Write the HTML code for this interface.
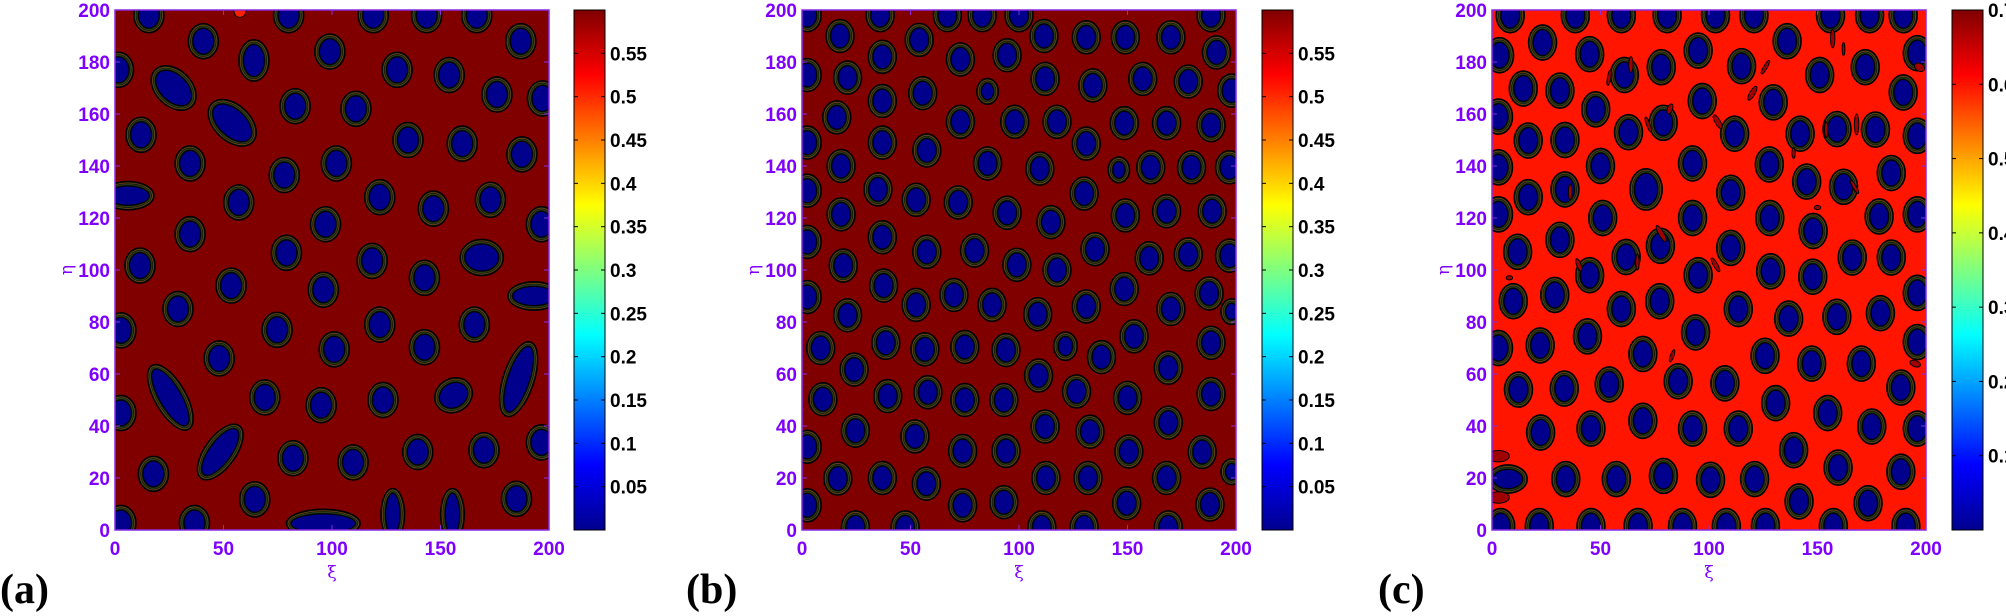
<!DOCTYPE html>
<html><head><meta charset="utf-8"><style>
html,body{margin:0;padding:0;background:#fff;width:2006px;height:616px;overflow:hidden}
svg{display:block}
.t{font-family:"Liberation Sans Narrow","Liberation Sans",sans-serif;font-weight:bold;font-size:19px;fill:#7f00ff}
.c{font-family:"Liberation Sans Narrow","Liberation Sans",sans-serif;font-weight:bold;font-size:19px;fill:#000}
.p{font-family:"Liberation Serif",serif;font-weight:bold;font-size:42px;fill:#000}
.g{font-family:"DejaVu Serif","Liberation Serif",serif;font-size:17px;fill:#7f00ff}
</style></head><body>
<svg id="s" width="2006" height="616" xmlns="http://www.w3.org/2000/svg">
<defs>
<linearGradient id="jet" x1="0" y1="1" x2="0" y2="0">
<stop offset="0" stop-color="#00008f"/><stop offset="0.125" stop-color="#0000ff"/><stop offset="0.375" stop-color="#00ffff"/><stop offset="0.625" stop-color="#ffff00"/><stop offset="0.875" stop-color="#ff0000"/><stop offset="1" stop-color="#800000"/>
</linearGradient>
<clipPath id="ca"><rect x="115" y="10" width="434" height="520"/></clipPath>
<clipPath id="cb"><rect x="802" y="10" width="434" height="520"/></clipPath>
<clipPath id="cc"><rect x="1492" y="10" width="434" height="520"/></clipPath>
</defs>
</svg>
<script>
var S=document.getElementById('s'),NS='http://www.w3.org/2000/svg';
function el(n,a,t,p){var e=document.createElementNS(NS,n);for(var k in a)e.setAttribute(k,a[k]);if(t!=null)e.textContent=t;(p||S).appendChild(e);return e;}
function panel(X0,bg,clip,spots,def,cbX,vmax,cticks,letter,letX,extra){
  el('rect',{x:X0,y:10,width:434,height:520,fill:bg});
  var g=el('g',{'clip-path':'url(#'+clip+')'});
  function px(x){return X0+x*434/200}function py(y){return 10+(200-y)*520/200}
  spots.forEach(function(s){
    var cx=px(s[0]),cy=py(s[1]),rx=(s[2]||def[0])*2.17,ry=(s[3]||def[1])*2.6,a=s[4]||0;
    var tr='rotate('+a+' '+cx+' '+cy+')';
    el('ellipse',{cx:cx,cy:cy,rx:rx,ry:ry,fill:'#141a0c',stroke:'#000','stroke-width':1.3,transform:tr},null,g);
    el('ellipse',{cx:cx,cy:cy,rx:rx-1.6,ry:ry-1.6,fill:'none',stroke:'#7a4a10','stroke-width':0.7,transform:tr},null,g);
    el('ellipse',{cx:cx,cy:cy,rx:rx-3.2,ry:ry-3.2,fill:'none',stroke:'#2e4a20','stroke-width':0.7,transform:tr},null,g);
    el('ellipse',{cx:cx,cy:cy,rx:Math.max(rx-4.8,1),ry:Math.max(ry-4.8,1),fill:'#00008c',stroke:'#000','stroke-width':1,transform:tr},null,g);
  });
  if(extra)extra(g,px,py);
  el('rect',{x:X0,y:10,width:434,height:520,fill:'none',stroke:'#8a2be2','stroke-width':1.5});
  for(var i=0;i<=4;i++){var x=X0+i*434/4;
    el('line',{x1:x,y1:530,x2:x,y2:525,stroke:'#8a2be2'});el('line',{x1:x,y1:10,x2:x,y2:15,stroke:'#8a2be2'});
    el('text',{x:x,y:555,'text-anchor':'middle','class':'t'},String(i*50));}
  for(var j=0;j<=10;j++){var y=530-j*52;
    el('line',{x1:X0,y1:y,x2:X0+5,y2:y,stroke:'#8a2be2'});el('line',{x1:X0+434,y1:y,x2:X0+429,y2:y,stroke:'#8a2be2'});
    el('text',{x:X0-5,y:y+7,'text-anchor':'end','class':'t'},String(j*20));}
  el('text',{x:X0+217,y:578,'text-anchor':'middle','class':'g'},'ξ');
  el('text',{x:0,y:0,'text-anchor':'middle','class':'g',transform:'translate('+(X0-43)+' 270) rotate(-90)'},'η');
  el('rect',{x:cbX,y:10,width:31,height:520,fill:'url(#jet)',stroke:'#000','stroke-width':1});
  cticks.forEach(function(v){var y=530-v/vmax*520;
    el('line',{x1:cbX,y1:y,x2:cbX+4,y2:y,stroke:'#000'});el('line',{x1:cbX+31,y1:y,x2:cbX+27,y2:y,stroke:'#000'});
    el('text',{x:cbX+36,y:y+7,'class':'c'},String(v));});
  el('text',{x:letX,y:603,'class':'p'},'('+letter+')');
}
var A=[[15.6,198],[80,198],[119,198],[143.6,198],[166.7,198],[40.7,188],[64,180.6,7,8],[99,184],[187,188],[1.6,177],[27,170,12,7,44],[130,177],[154,175],[176,167.5],[197,166],[83,163],[111,162],[54,156.6,13,7,43],[12,152],[135,150],[160,148.6],[187.5,144.5],[34.6,141],[102,141],[78,136.5],[6,128.6,12,5.5],[57,126],[122,128],[146.7,123.6],[173,127],[196.5,117.6],[97,117.6],[34.6,113.8],[79,106.6],[11.5,101.7],[118.5,103.5],[169,104.8,10,7],[53.5,94],[96,92.4],[142.6,97],[193,90,12,5.5],[29,85],[2.7,76.8],[74.7,77],[122,79],[165.6,79],[101,69.5],[48,66],[142.6,70.3],[25.5,51,17,6,60],[186,58,18,6,108],[69,51],[95,48],[123.5,50],[156,51.8,9,6.5,-30],[2.7,45],[48.5,30,15,6,126],[196.5,33.7],[82,27.6],[109.7,26],[139.5,30],[170,30.7],[17.7,21.6],[64.4,11.8],[185,12],[128,6,5.5,10],[155.5,6,5.5,10],[2.7,2.7],[36.6,2.7],[96,2.5,17,5.5]];
var B=[[2.4,198],[36,198],[67,198],[83,198],[100,198],[188.5,198],[17.5,190],[54,188.5],[111.5,190],[131,189.5],[149,189.5],[170,189.5],[37,182],[73,181],[94.5,182.6],[191,183.7],[2.4,175],[21,174],[112,173.5],[134,171],[157,173.5],[178,172.5],[198,169],[37,165],[55.6,168],[85.5,168.7,5,5],[16,158.7],[73,157],[98,157],[117.5,157],[148.5,156.5],[168,156.5],[188.5,155.7],[2.4,149],[37,149],[57.5,146],[131,148.6],[18,140],[85.5,141],[109.6,139],[146,138.5,5,5],[160.7,139.5],[179.5,139.5],[197,139.5],[2.4,130.5],[35,131],[52.6,127],[72,126],[130,129.4],[18,121.4],[94.5,122],[114.7,118.4],[149,121],[168,122.6],[189,122.6],[2.4,110.8],[37,112.6],[57.5,107],[79.5,107.5],[135,108],[160,104.5],[178,106],[197,105.5],[19,101.7],[99,102],[117.5,100],[2.4,89.6],[37.6,94],[52.6,86.6],[70,90.4],[87.6,86.6],[108.6,83],[131,86],[148.5,92.7],[170,85],[187.6,91],[198,84,5,5],[21,82.6],[8.6,70],[38.6,72],[56.6,69.5],[75,70.4],[94,69.2],[121.4,70.7,5.5,5.5],[138,66.5],[153,74.5],[188.5,72],[24,61.7],[109,59.4],[168.8,62.4],[9.6,50.3],[39.5,51.5],[58,53],[75,50],[93,50],[126.5,53.3],[150,50.8],[188.5,52.3],[24.6,38.2],[52,36],[112,39.8],[132.7,37.8],[168.8,41.3],[2.4,32],[74,30.4],[94,30.4],[150.6,30.2],[184.4,30],[198,22.4,5,5],[16.5,19.8],[37,20],[57.3,17.8],[112.4,20],[131.8,20],[168,20],[2.4,9.5],[74,9.5],[93,10.7],[149.6,10.3],[188,9.8],[24.6,1],[47.5,1],[110.5,1],[130,1],[168.8,1]];
var C=[[8.4,198],[38.4,198],[59.6,198],[80.7,198],[103,198],[120.7,198],[156,198],[174,198],[189.5,198],[23.3,187.5],[45,183],[78,178],[95,184.4],[115,178.4],[136,188],[151,175],[172,178],[196,183.4],[3.5,182.6],[61,175],[14.4,169.8],[31.3,169],[47.8,161.8],[96.9,165],[129.6,164.5],[189.5,168.3],[3,159],[16.7,149.8],[33.6,150],[62.9,153],[78.9,156.6],[111.8,152.4],[142,152.4],[159,154.2],[176.7,154],[196,151.6],[3,139.5],[50,140],[92.4,141],[127.8,140.6],[145,134],[162,132],[184,137.3],[16.7,128],[33.6,131],[71,131,7.5,8],[110,129.7],[178.4,120.6],[196,121.4],[3,121.4],[51,120],[92.4,120],[128,120],[148,115],[11.8,107],[31.3,111.6],[61.8,105],[77.6,109.3],[110,108.5],[166,104.8],[184,104.8],[45,98],[95,98],[128.4,99.5],[147.8,97.4],[196,91.2],[9.8,88],[28.9,90.4],[59.6,85],[77.3,88],[113.5,85],[136.7,81.3],[158.9,82],[179,83.4],[3,70],[22.2,71],[44,74.5],[69.5,67.7],[93.8,76],[125.8,67],[147.3,64],[170.2,64],[196,72.3],[12.2,54],[33.3,54.4],[54,56],[85.8,57.2],[107.3,56.4],[188.4,54.8],[22.4,37.5],[45.6,39],[69.5,42],[92.4,39],[113.5,39],[130.7,48.8],[154.7,45],[175,39.8],[196,39],[139,30.7],[7.3,19.6,9,5.5],[34,19.6],[57.3,19.6],[79,20.8],[100.7,19.3],[121,19.6],[159.5,24],[188.4,22.4],[141.5,11],[173.3,10.3],[4,1.5],[21.8,1.5],[45.6,1.5],[67.3,1.5],[87.8,1.5],[108,1.5],[126,1.5],[157.3,1.5],[190.7,1.5]];
panel(115,'#800000','ca',A,[7,6.8],574,0.6,[0.05,0.1,0.15,0.2,0.25,0.3,0.35,0.4,0.45,0.5,0.55],'a',0,function(g,px,py){
  el('circle',{cx:px(57.6),cy:py(199.5),r:6,fill:'#ff2000',stroke:'#000','stroke-width':1},null,g);});
panel(802,'#800000','cb',B,[6.5,6.4],1262,0.6,[0.05,0.1,0.15,0.2,0.25,0.3,0.35,0.4,0.45,0.5,0.55],'b',686,null);
panel(1492,'#ff1500','cc',C,[6.5,6.8],1952,0.7,[0.1,0.2,0.3,0.4,0.5,0.6,0.7],'c',1378,function(g,px,py){
  var sl=[[3,28.4,5,2.2,0],[3,12.5,5,2.2,0],[54,174,0.8,3,10],[72,156,0.8,3,-20],[82,162,1.2,2,20],[120,168,1.2,3,30],[104,157,1.2,3,-30],[78,114,1.2,3.5,-30],[168,156,1,4,0],[154,154,0.8,3,0],[197,178,2.5,1.5,30],[195,64,2.5,1.2,20],[36,130,0.8,3,0],[40,102,1,2.5,-20],[103,102,1,3,-30],[67,103,0.8,3,0],[150,124,1.5,0.8,0],[139,145,0.8,2,0],[167,132,0.8,3,-30],[83,67,0.8,2.5,20],[162,185,0.6,2.5,0],[64,179,1,3,0],[8,97,1.5,0.8,0],[126,178,0.8,3,30],[157,189,1,3.5,0]];
  sl.forEach(function(s){var cx=px(s[0]),cy=py(s[1]);el('ellipse',{cx:cx,cy:cy,rx:s[2]*2.17,ry:s[3]*2.6,fill:'#a00000',stroke:'#000','stroke-width':1,transform:'rotate('+s[4]+' '+cx+' '+cy+')'},null,g);});});
</script>
</body></html>
